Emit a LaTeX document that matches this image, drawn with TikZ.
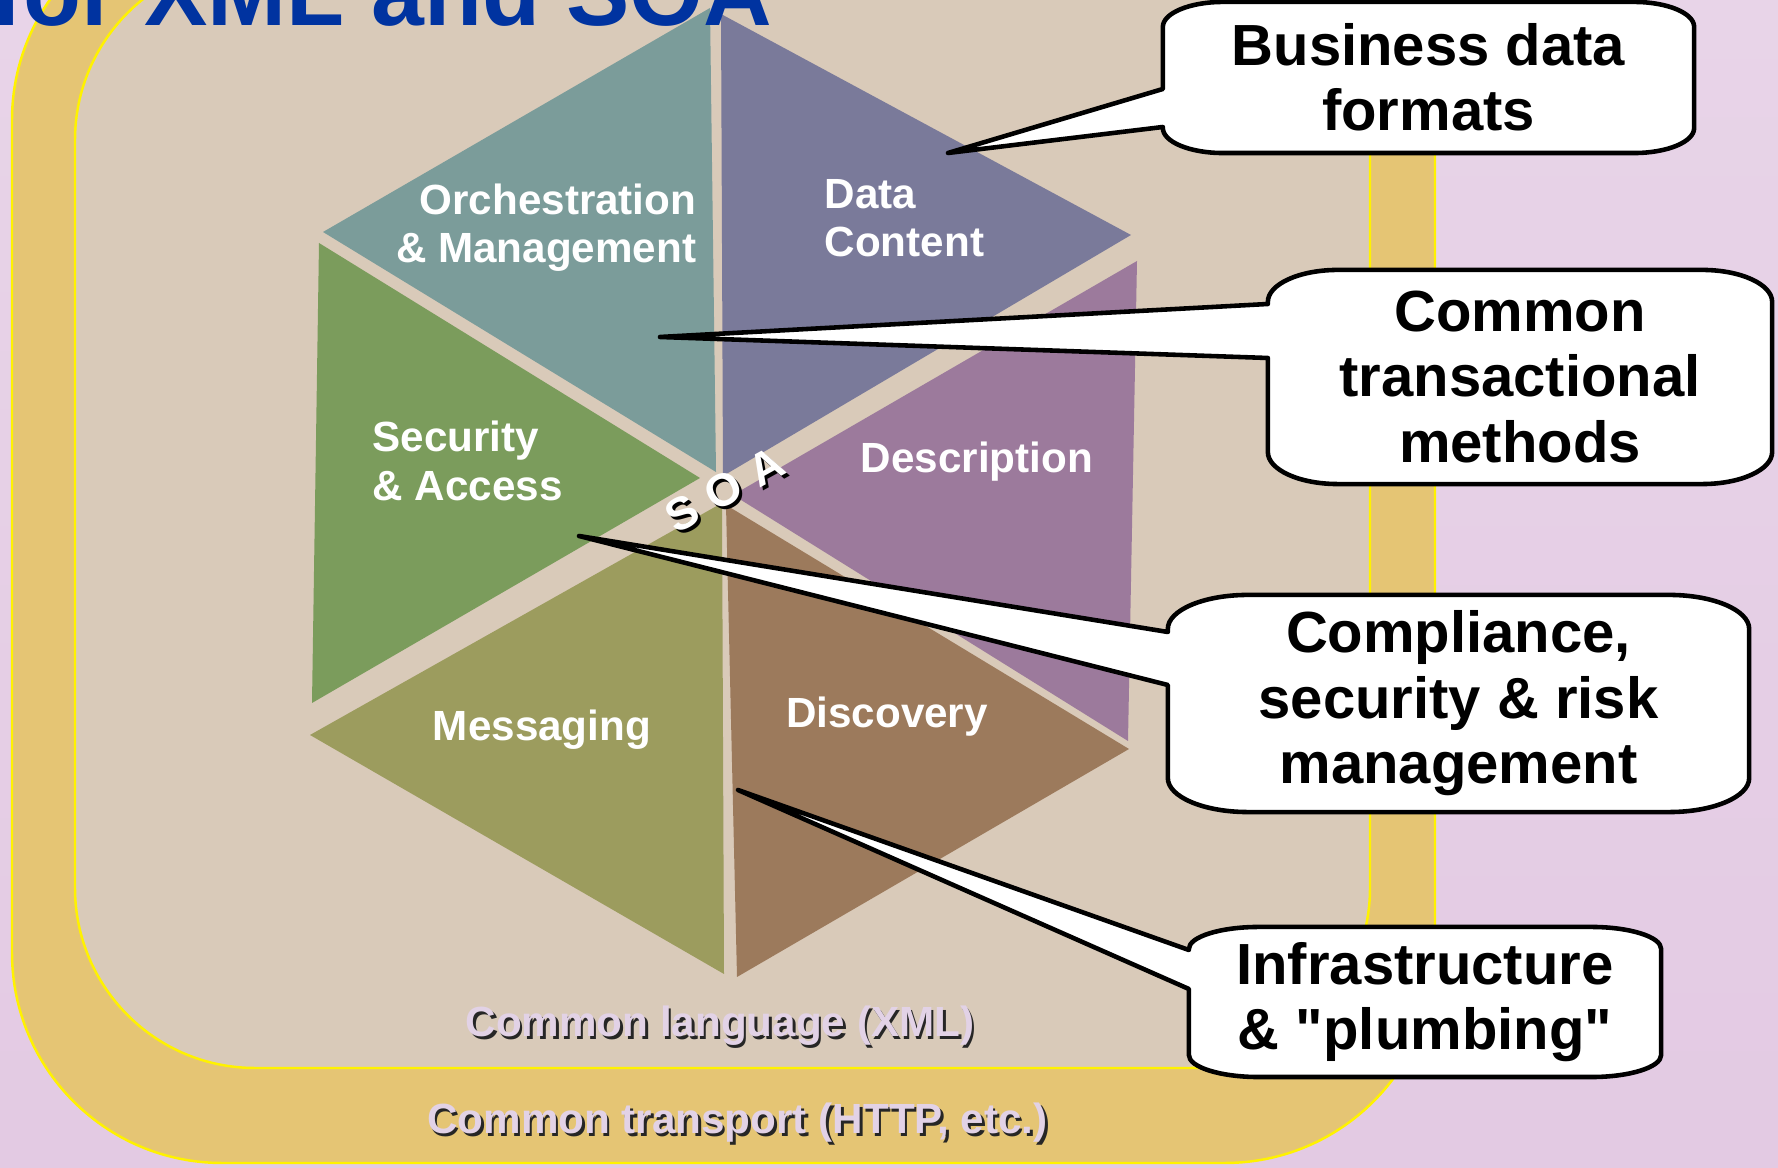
\documentclass[tikz,border=0pt]{standalone}
\usepackage{fontspec}
\setmainfont{Liberation Sans}
\usetikzlibrary{calc}

\definecolor{pagetop}{HTML}{E8D4E8}
\definecolor{pagemid}{HTML}{F8F3F8}
\definecolor{pagebot}{HTML}{E3CAE3}
\definecolor{gold}{HTML}{E5C574}
\definecolor{beige}{HTML}{D9CAB9}
\definecolor{titleblue}{HTML}{0033A0}
\definecolor{lilac}{HTML}{E2D2E6}
\definecolor{orchcol}{HTML}{7B9C9A}
\definecolor{datacol}{HTML}{7A7A9A}
\definecolor{desccol}{HTML}{9C7A9C}
\definecolor{disccol}{HTML}{9C7A5C}
\definecolor{msgcol}{HTML}{9C9C5E}
\definecolor{seccol}{HTML}{7B9C5C}

\begin{document}
\begin{tikzpicture}[x=0.01cm, y=-0.01cm]

  % Stili
  \tikzstyle{slab} = [draw=yellow, line width=0.7pt]
  \tikzstyle{hexlabel} = [text=white, inner sep=0pt, font=\bfseries\fontsize{12}{13.7}\selectfont]
  \tikzstyle{soatext} = [rotate=29, inner sep=0pt, font=\bfseries\fontsize{13}{15}\selectfont]
  \tikzstyle{layerlabel} = [text=lilac, inner sep=0pt, anchor=base, font=\bfseries\fontsize{12}{14}\selectfont]
  \tikzstyle{layershadow} = [layerlabel, text=black!85]
  \tikzstyle{balloon} = [inner sep=0pt, outer sep=0pt]
  \tikzstyle{balloonline} = [draw=black, fill=white, line width=1.3pt, line join=round]
  \tikzstyle{balloontext} = [align=center, inner sep=0pt, font=\bfseries\fontsize{16.5}{18.6}\selectfont]

  % Sfondo
  \clip (0,0) rectangle (1778,1168);
  \shade[top color=pagetop, middle color=pagemid, bottom color=pagebot] (0,0) rectangle (1778,1168);
  \draw[slab, fill=gold, rounded corners=2.1cm] (12,-90) rectangle (1435,1163);
  \draw[slab, fill=beige, rounded corners=1.8cm] (75,-40) rectangle (1370,1068);

  % Esagono
  \fill[orchcol] (710,8) -- (323,232) -- (716,472) -- cycle;
  \fill[datacol] (721,14) -- (1131,235) -- (723,476) -- cycle;
  \fill[desccol] (1137,261) -- (1128,741) -- (733,495) -- cycle;
  \fill[disccol] (726,505) -- (1129,749) -- (737,977) -- cycle;
  \fill[msgcol] (310,735) -- (722,503) -- (724,974) -- cycle;
  \fill[seccol] (319,243) -- (700,478) -- (312,703) -- cycle;

  % Titolo
  \node[anchor=base east, inner sep=0pt, text=titleblue, font=\bfseries\fontsize{27}{30}\selectfont] (title) at (773,26) {for XML and SOA};

  % Etichette
  \node[hexlabel, align=right, anchor=east] (orch) at (697,228) {Orchestration\\\& Management};
  \node[hexlabel, align=left, anchor=west] (data) at (824,218) {Data\\Content};
  \node[hexlabel, align=left, anchor=west] (sec) at (372,461) {Security\\\& Access};
  \node[hexlabel, anchor=base] (desc) at (977,473) {Description};
  \node[hexlabel, anchor=base] (msg) at (542,741) {Messaging};
  \node[hexlabel, anchor=base] (disc) at (887,728) {Discovery};

  \node[soatext, text=black] (soashade) at (728,493) {S\hspace{0.32em}O\hspace{0.32em}A};
  \node[soatext, text=white] (soa) at (725,490) {S\hspace{0.32em}O\hspace{0.32em}A};

  \node[layershadow] (xmlshade) at (722.5,1039.5) {Common language (XML)};
  \node[layerlabel] (xml) at (720,1037) {Common language (XML)};
  \node[layershadow] (httpshade) at (740,1136.5) {Common transport (HTTP, etc.)};
  \node[layerlabel] (http) at (737.5,1134) {Common transport (HTTP, etc.)};

  % Fumetti
  \node[balloon, minimum width=5.31cm, minimum height=1.51cm] (fmt) at (1428.5,77.5) {};
  \coordinate (fmttip) at (948,153);
  \draw[balloonline] ($(fmt.north west)+(60,0)$) -- ($(fmt.north east)+(-60,0)$)
    arc[start angle=-90, end angle=0, x radius=60, y radius=25]
    -- ($(fmt.south east)+(0,-25)$)
    arc[start angle=0, end angle=90, x radius=60, y radius=25]
    -- ($(fmt.south west)+(60,0)$)
    arc[start angle=90, end angle=180, x radius=60, y radius=25]
    -- ($(fmt.west)+(0,49.5)$) -- (fmttip) -- ($(fmt.west)+(0,11.5)$)
    -- ($(fmt.north west)+(0,25)$)
    arc[start angle=180, end angle=270, x radius=60, y radius=25] -- cycle;
  \node[balloontext] (fmtlbl) at (fmt) {Business data\\formats};

  \node[balloon, minimum width=5.04cm, minimum height=2.14cm] (txn) at (1520,377) {};
  \coordinate (txntip) at (660,337);
  \draw[balloonline] ($(txn.north west)+(70,0)$) -- ($(txn.north east)+(-70,0)$)
    arc[start angle=-90, end angle=0, x radius=70, y radius=32]
    -- ($(txn.south east)+(0,-32)$)
    arc[start angle=0, end angle=90, x radius=70, y radius=32]
    -- ($(txn.south west)+(70,0)$)
    arc[start angle=90, end angle=180, x radius=70, y radius=32]
    -- ($(txn.west)+(0,-19)$) -- (txntip) -- ($(txn.west)+(0,-73)$)
    -- ($(txn.north west)+(0,32)$)
    arc[start angle=180, end angle=270, x radius=70, y radius=32] -- cycle;
  \node[balloontext] (txnlbl) at (txn) {Common\\transactional\\methods};

  \node[balloon, minimum width=5.81cm, minimum height=2.17cm] (risk) at (1458.5,703.5) {};
  \coordinate (risktip) at (579,536);
  \draw[balloonline] ($(risk.north west)+(80,0)$) -- ($(risk.north east)+(-80,0)$)
    arc[start angle=-90, end angle=0, x radius=80, y radius=34]
    -- ($(risk.south east)+(0,-34)$)
    arc[start angle=0, end angle=90, x radius=80, y radius=34]
    -- ($(risk.south west)+(80,0)$)
    arc[start angle=90, end angle=180, x radius=80, y radius=34]
    -- ($(risk.west)+(0,-18.5)$) -- (risktip) -- ($(risk.west)+(0,-71.5)$)
    -- ($(risk.north west)+(0,34)$)
    arc[start angle=180, end angle=270, x radius=80, y radius=34] -- cycle;
  \node[balloontext] (risklbl) at (risk) {Compliance,\\security \& risk\\management};

  \node[balloon, minimum width=4.72cm, minimum height=1.50cm] (infra) at (1425,1002) {};
  \coordinate (infratip) at (738,790);
  \draw[balloonline] ($(infra.north west)+(70,0)$) -- ($(infra.north east)+(-70,0)$)
    arc[start angle=-90, end angle=0, x radius=70, y radius=22]
    -- ($(infra.south east)+(0,-22)$)
    arc[start angle=0, end angle=90, x radius=70, y radius=22]
    -- ($(infra.south west)+(70,0)$)
    arc[start angle=90, end angle=180, x radius=70, y radius=22]
    -- ($(infra.west)+(0,-13)$) -- (infratip) -- ($(infra.west)+(0,-52)$)
    -- ($(infra.north west)+(0,22)$)
    arc[start angle=180, end angle=270, x radius=70, y radius=22] -- cycle;
  \node[balloontext] (infralbl) at (infra) {Infrastructure\\\& \textquotedbl plumbing\textquotedbl};

\end{tikzpicture}
\end{document}
